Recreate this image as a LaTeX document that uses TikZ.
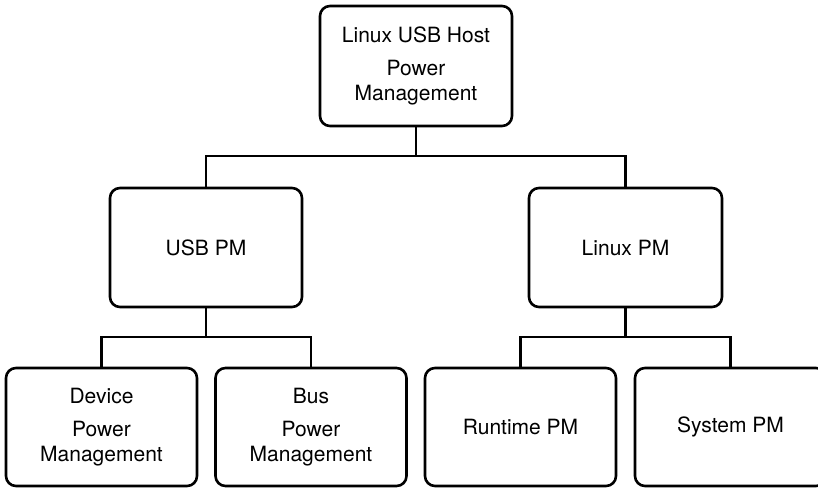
\documentclass[tikz,border=0pt]{standalone}
\usepackage{fontspec}
\setmainfont{TeX Gyre Heros}
\begin{document}
\begin{tikzpicture}[x=1pt,y=-1pt,
  pmbox/.style={draw, line width=2.6pt, rounded corners=10pt, align=center,
    minimum width=191pt, minimum height=118pt, inner sep=0pt,
    font=\fontsize{21}{25}\selectfont},
  link/.style={line width=2.6pt}]
\useasboundingbox (0,0) rectangle (818,488);
\node[pmbox, minimum width=192pt, minimum height=120pt] (top) at (416,66) {Linux USB Host\\[8pt]Power\\Management};
\node[pmbox, minimum width=192pt, minimum height=119pt] (usb) at (206,247.5) {USB PM};
\node[pmbox, minimum width=193pt, minimum height=119pt] (lin) at (625.5,247.5) {Linux PM};
\node[pmbox] (dev) at (101.5,427) {Device\\[8pt]Power\\Management};
\node[pmbox] (bus) at (311,427) {Bus\\[8pt]Power\\Management};
\node[pmbox] (run) at (520.5,427) {Runtime PM};
\node[pmbox] (sys) at (730.5,427) {System PM};
\coordinate (j1) at (416,156);
\coordinate (j2) at (206,337);
\coordinate (j3) at (625.5,337);
\draw[link] (top.south) -- (j1);
\draw[link] (usb.north) -- (usb.north |- j1) -- (lin.north |- j1) -- (lin.north);
\draw[link] (usb.south) -- (j2);
\draw[link] (dev.north) -- (dev.north |- j2) -- (bus.north |- j2) -- (bus.north);
\draw[link] (lin.south) -- (j3);
\draw[link] (run.north) -- (run.north |- j3) -- (sys.north |- j3) -- (sys.north);
\end{tikzpicture}
\end{document}
